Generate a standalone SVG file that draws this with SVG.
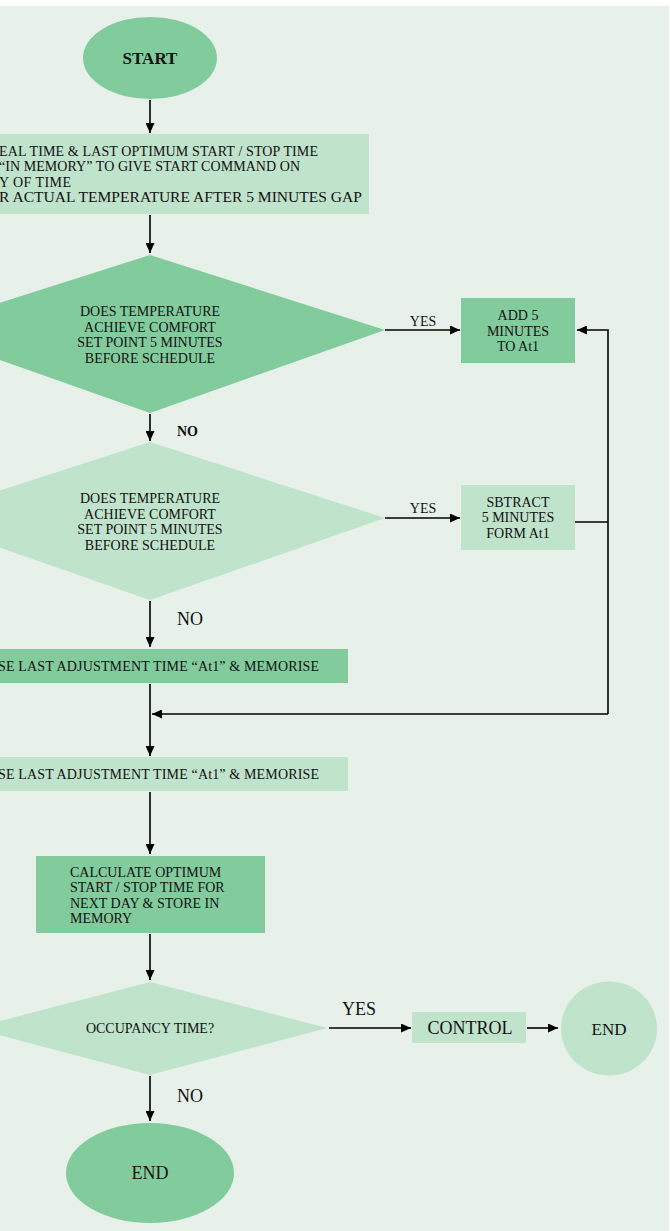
<svg xmlns="http://www.w3.org/2000/svg" width="670" height="1231" viewBox="0 0 670 1231">
<defs>
<marker id="ah" markerUnits="userSpaceOnUse" markerWidth="11" markerHeight="9" refX="10" refY="4.5" orient="auto">
<path d="M0,0 L10,4.5 L0,9 z" fill="#000"/>
</marker>
<style>
.t{font-family:"Liberation Serif","Times New Roman",serif;fill:#111;font-size:14px}
.c{text-anchor:middle}
.e{text-anchor:end}
.dk{fill:#82cb9d}
.lt{fill:#c0e3cc}
.ln{stroke:#000;stroke-width:1.6;fill:none}
.ar{marker-end:url(#ah)}
</style>
</defs>
<rect x="0" y="0" width="670" height="1231" fill="#ffffff"/>
<rect x="0" y="6" width="669" height="1225" fill="#e7f1ea"/>

<g id="connectors">
<line class="ln ar" x1="150" y1="100" x2="150" y2="133"/>
<line class="ln ar" x1="150" y1="215" x2="150" y2="253"/>
<line class="ln ar" x1="385" y1="330" x2="460" y2="330"/>
<line class="ln ar" x1="150" y1="414" x2="150" y2="441"/>
<line class="ln ar" x1="385" y1="518" x2="460" y2="518"/>
<line class="ln ar" x1="150" y1="601" x2="150" y2="647"/>
<line class="ln ar" x1="150" y1="684" x2="150" y2="756"/>
<polyline class="ln" points="575,522 608,522"/>
<polyline class="ln ar" points="608,714 608,330 577,330"/>
<polyline class="ln ar" points="608,714 152,714"/>
<line class="ln ar" x1="150" y1="792" x2="150" y2="854"/>
<line class="ln ar" x1="150" y1="934" x2="150" y2="980"/>
<line class="ln ar" x1="329" y1="1028" x2="411" y2="1028"/>
<line class="ln ar" x1="527" y1="1028" x2="558" y2="1028"/>
<line class="ln ar" x1="150" y1="1076" x2="150" y2="1121"/>
<text class="t c" x="423" y="326">YES</text>
<text class="t" x="177" y="436" font-weight="bold">NO</text>
<text class="t c" x="423" y="513">YES</text>
<text class="t" x="177" y="625" style="font-size:18px">NO</text>
<text class="t c" x="359" y="1015" style="font-size:18px">YES</text>
<text class="t" x="177" y="1102" style="font-size:18px">NO</text>
</g>

<g id="start">
<ellipse class="dk" cx="150" cy="58" rx="67" ry="41"/>
<text class="t c" x="150" y="64" font-weight="bold" style="font-size:17px">START</text>
</g>

<g id="read-box">
<rect class="lt" x="-20" y="134" width="389" height="80"/>
<text class="t" x="-1" y="156" textLength="319" lengthAdjust="spacing">EAL TIME &amp; LAST OPTIMUM START / STOP TIME</text>
<text class="t" x="-1" y="171" textLength="301" lengthAdjust="spacing">“IN MEMORY” TO GIVE START COMMAND ON</text>
<text class="t" x="-1" y="187" textLength="72" lengthAdjust="spacing">Y OF TIME</text>
<text class="t" x="-1" y="202" style="font-size:15px" textLength="363" lengthAdjust="spacingAndGlyphs">R ACTUAL TEMPERATURE AFTER 5 MINUTES GAP</text>
</g>

<g id="decision1">
<polygon class="dk" points="150,255 385,330 150,413 -85,330"/>
<text class="t c" x="150" y="316">DOES TEMPERATURE</text>
<text class="t c" x="150" y="332">ACHIEVE COMFORT</text>
<text class="t c" x="150" y="347">SET POINT 5 MINUTES</text>
<text class="t c" x="150" y="363">BEFORE SCHEDULE</text>
</g>

<g id="add-box">
<rect class="dk" x="461" y="298" width="114" height="65"/>
<text class="t c" x="518" y="320">ADD 5</text>
<text class="t c" x="518" y="336">MINUTES</text>
<text class="t c" x="518" y="351">TO At1</text>
</g>

<g id="decision2">
<polygon class="lt" points="150,442 385,518 150,600 -85,518"/>
<text class="t c" x="150" y="503">DOES TEMPERATURE</text>
<text class="t c" x="150" y="519">ACHIEVE COMFORT</text>
<text class="t c" x="150" y="534">SET POINT 5 MINUTES</text>
<text class="t c" x="150" y="550">BEFORE SCHEDULE</text>
</g>

<g id="subtract-box">
<rect class="lt" x="461" y="485" width="114" height="65"/>
<text class="t c" x="518" y="507">SBTRACT</text>
<text class="t c" x="518" y="522">5 MINUTES</text>
<text class="t c" x="518" y="538">FORM At1</text>
</g>

<g id="memorise-box1">
<rect class="dk" x="-20" y="649" width="368" height="34"/>
<text class="t" x="-2" y="671" textLength="321" lengthAdjust="spacing">SE LAST ADJUSTMENT TIME “At1” &amp; MEMORISE</text>
</g>

<g id="memorise-box2">
<rect class="lt" x="-20" y="757" width="368" height="34"/>
<text class="t" x="-2" y="779" textLength="321" lengthAdjust="spacing">SE LAST ADJUSTMENT TIME “At1” &amp; MEMORISE</text>
</g>

<g id="calc-box">
<rect class="dk" x="36" y="856" width="229" height="77"/>
<text class="t" x="70" y="877">CALCULATE OPTIMUM</text>
<text class="t" x="70" y="892">START / STOP TIME FOR</text>
<text class="t" x="70" y="908">NEXT DAY &amp; STORE IN</text>
<text class="t" x="70" y="923">MEMORY</text>
</g>

<g id="decision3">
<polygon class="lt" points="150,982 327,1028 150,1075 -27,1028"/>
<text class="t c" x="150" y="1033">OCCUPANCY TIME?</text>
</g>

<g id="control-box">
<rect class="lt" x="412" y="1012" width="114" height="31"/>
<text class="t c" x="470" y="1034" style="font-size:18px">CONTROL</text>
</g>

<g id="end-right">
<ellipse class="lt" cx="609" cy="1028.5" rx="48" ry="47"/>
<text class="t c" x="609" y="1035" style="font-size:17px">END</text>
</g>

<g id="end-bottom">
<ellipse class="dk" cx="150" cy="1173" rx="84" ry="50"/>
<text class="t c" x="150" y="1179" style="font-size:18px">END</text>
</g>
</svg>
